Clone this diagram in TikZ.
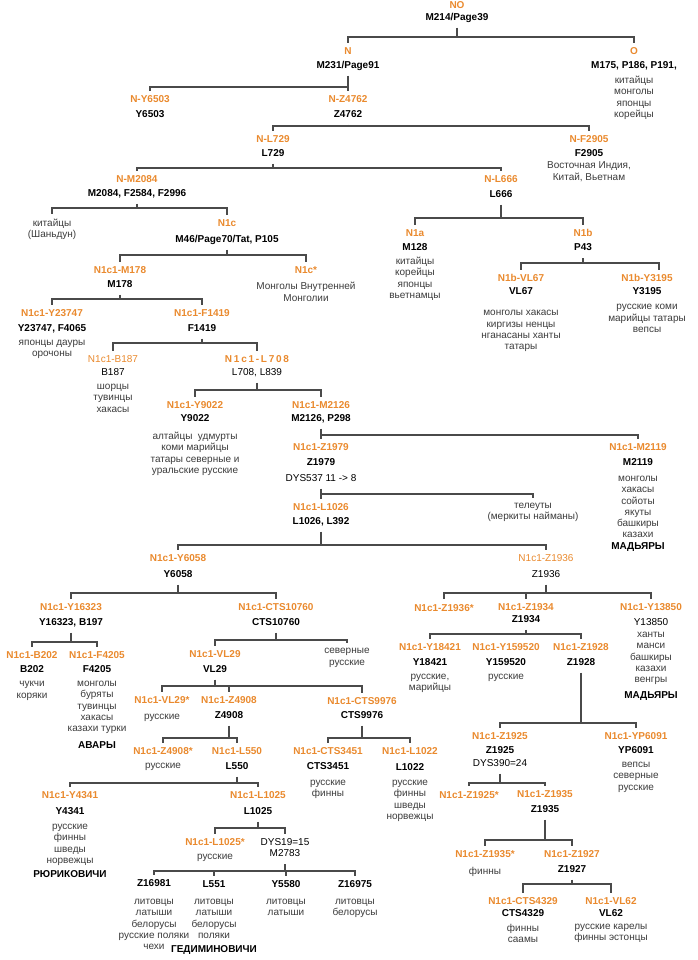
\documentclass[tikz,border=0pt]{standalone}
\usepackage{fontspec}
\setmainfont{Liberation Sans}
\definecolor{org}{RGB}{234,138,46}
\definecolor{pop}{HTML}{3C3C3C}
\definecolor{ln}{HTML}{4A4A4A}
\newcommand\lb[1]{\textcolor{org}{\bfseries #1}}
\newcommand\lr[1]{\textcolor{org}{#1}}
\newcommand\mk[1]{\textbf{#1}}
\newcommand\pp[1]{\textcolor{pop}{#1}}
\newcommand\ltrsp{\kern1.75pt}
\tikzset{
  clade/.style={align=center, inner sep=0pt, outer sep=0pt, anchor=north,
    font=\fontsize{10}{11.25}\selectfont, execute at begin node=\strut},
  edge/.style={draw=ln, line width=1.1pt, shorten <=4pt, shorten >=5pt},
}
\newcommand\cl[4]{\node[clade] (#1) at (#2,#3-4.375) {#4};}
\newcommand\br[3]{%
  \coordinate (bar-#1) at (0,#2);
  \foreach \ch in {#3}{\draw[edge] (#1.south) -- (#1.south |- bar-#1) -| (\ch.north);}%
}
\begin{document}
\begin{tikzpicture}[x=1pt,y=-1pt]
\fill[white] (0,0) rectangle (697,960);
\useasboundingbox (0,0) rectangle (697,960);

\cl{NO}{457}{6}{\lb{NO}\\[0.75pt]\mk{M214/Page39}}
\cl{N}{348}{52}{\lb{N}\\[2.75pt]\mk{M231/Page91}}
\cl{O}{634}{52}{\lb{O}\\[2.75pt]\mk{M175, P186, P191,}\\[3.75pt]\pp{китайцы}\\\pp{монголы}\\\pp{японцы}\\\pp{корейцы}}
\cl{NY6503}{150}{100}{\lb{N-Y6503}\\[3.75pt]\mk{Y6503}}
\cl{NZ4762}{348}{100}{\lb{N-Z4762}\\[3.75pt]\mk{Z4762}}
\cl{NL729}{273}{140}{\lb{N-L729}\\[2.75pt]\mk{L729}}
\cl{NF2905}{589}{140}{\lb{N-F2905}\\[2.75pt]\mk{F2905}\\[0.75pt]\pp{Восточная Индия,}\\[0.75pt]\pp{Китай, Вьетнам}}
\cl{NM2084}{137}{180}{\lb{N-M2084}\\[2.75pt]\mk{M2084, F2584, F2996}}
\cl{kit}{52}{223}{\pp{китайцы}\\\pp{(Шаньдун)}}
\cl{N1c}{227}{224}{\lb{N1c}\\[4.75pt]\mk{M46/Page70/Tat, P105}}
\cl{NL666}{501}{180}{\lb{N-L666}\\[3.75pt]\mk{L666}}
\cl{N1a}{415}{234}{\lb{N1a}\\[2.75pt]\mk{M128}\\[2.75pt]\pp{китайцы}\\\pp{корейцы}\\\pp{японцы}\\\pp{вьетнамцы}}
\cl{N1b}{583}{234}{\lb{N1b}\\[2.75pt]\mk{P43}}
\cl{VL67}{521}{279}{\lb{N1b-VL67}\\[1.75pt]\mk{VL67}\\[9.75pt]\pp{монголы хакасы}\\\pp{киргизы ненцы}\\\pp{нганасаны ханты}\\\pp{татары}}
\cl{Y3195}{647}{279}{\lb{N1b-Y3195}\\[1.75pt]\mk{Y3195}\\[3.75pt]\pp{русские коми}\\\pp{марийцы татары}\\\pp{вепсы}}
\cl{M178}{120}{271}{\lb{N1c1-M178}\\[2.75pt]\mk{M178}}
\cl{N1cs}{306}{271}{\lb{N1c*}\\[4.75pt]\pp{Монголы Внутренней}\\[0.75pt]\pp{Монголии}}
\cl{Y23747}{52}{314}{\lb{N1c1-Y23747}\\[3.75pt]\mk{Y23747, F4065}\\[2.75pt]\pp{японцы дауры}\\\pp{орочоны}}
\cl{F1419}{202}{314}{\lb{N1c1-F1419}\\[3.75pt]\mk{F1419}}
\cl{B187}{113}{360}{\lr{N1c1-B187}\\[1.75pt]B187\\[2.75pt]\pp{шорцы}\\\pp{тувинцы}\\\pp{хакасы}}
\cl{L708}{257}{360}{\lb{N\ltrsp 1\ltrsp c\ltrsp 1\ltrsp -\ltrsp L\ltrsp 7\ltrsp 0\ltrsp 8}\\[1.75pt]L708, L839}
\cl{Y9022}{195}{406}{\lb{N1c1-Y9022}\\[1.75pt]\mk{Y9022}\\[6.75pt]\pp{алтайцы\ \ удмурты}\\\pp{коми марийцы}\\\pp{татары северные и}\\\pp{уральские русские}}
\cl{M2126}{321}{406}{\lb{N1c1-M2126}\\[1.75pt]\mk{M2126, P298}}
\cl{Z1979}{321}{448}{\lb{N1c1-Z1979}\\[3.75pt]\mk{Z1979}\\[4.75pt]DYS537 11 -> 8}
\cl{tel}{533}{507}{\pp{телеуты}\\\pp{(меркиты найманы)}}
\cl{M2119}{638}{448}{\lb{N1c1-M2119}\\[3.75pt]\mk{M2119}\\[4.75pt]\pp{монголы}\\\pp{хакасы}\\\pp{сойоты}\\\pp{якуты}\\\pp{башкиры}\\\pp{казахи}\\[0.75pt]\mk{МАДЬЯРЫ}}
\cl{L1026}{321}{508}{\lb{N1c1-L1026}\\[2.75pt]\mk{L1026, L392}}
\cl{Y6058}{178}{559}{\lb{N1c1-Y6058}\\[4.75pt]\mk{Y6058}}
\cl{Z1936}{546}{559}{\lr{N1c1-Z1936}\\[4.75pt]Z1936}
\cl{Y16323}{71}{608}{\lb{N1c1-Y16323}\\[3.75pt]\mk{Y16323, B197}}
\cl{CTS10760}{276}{608}{\lb{N1c1-CTS10760}\\[3.75pt]\mk{CTS10760}}
\cl{Z1936s}{444}{608}{\lb{N1c1-Z1936*}}
\cl{Z1934}{526}{608}{\lb{N1c1-Z1934}\\[0.75pt]\mk{Z1934}}
\cl{Y13850}{651}{608}{\lb{N1c1-Y13850}\\[3.75pt]Y13850\\[0.75pt]\pp{ханты}\\\pp{манси}\\\pp{башкиры}\\\pp{казахи}\\\pp{венгры}\\[4.75pt]\mk{МАДЬЯРЫ}}
\cl{B202}{32}{656}{\lb{N1c1-B202}\\[2.75pt]\mk{B202}\\[2.75pt]\pp{чукчи}\\[0.75pt]\pp{коряки}}
\cl{F4205}{97}{656}{\lb{N1c1-F4205}\\[2.75pt]\mk{F4205}\\[2.75pt]\pp{монголы}\\\pp{буряты}\\\pp{тувинцы}\\\pp{хакасы}\\\pp{казахи турки}\\[5.75pt]\mk{АВАРЫ}}
\cl{sev}{347}{652}{\pp{северные}\\[0.75pt]\pp{русские}}
\cl{VL29}{215}{655}{\lb{N1c1-VL29}\\[3.75pt]\mk{VL29}}
\cl{Y18421}{430}{648}{\lb{N1c1-Y18421}\\[3.75pt]\mk{Y18421}\\[2.75pt]\pp{русские,}\\\pp{марийцы}}
\cl{Y159520}{506}{648}{\lb{N1c1-Y159520}\\[3.75pt]\mk{Y159520}\\[2.75pt]\pp{русские}}
\cl{Z1928}{581}{648}{\lb{N1c1-Z1928}\\[3.75pt]\mk{Z1928}}
\cl{VL29s}{162}{701}{\lb{N1c1-VL29*}\\[4.75pt]\pp{русские}}
\cl{Z4908}{229}{701}{\lb{N1c1-Z4908}\\[3.75pt]\mk{Z4908}}
\cl{CTS9976}{362}{702}{\lb{N1c1-CTS9976}\\[2.75pt]\mk{CTS9976}}
\cl{Z4908s}{163}{752}{\lb{N1c1-Z4908*}\\[2.75pt]\pp{русские}}
\cl{L550}{237}{752}{\lb{N1c1-L550}\\[3.75pt]\mk{L550}}
\cl{CTS3451}{328}{752}{\lb{N1c1-CTS3451}\\[3.75pt]\mk{CTS3451}\\[4.75pt]\pp{русские}\\\pp{финны}}
\cl{L1022}{410}{752}{\lb{N1c1-L1022}\\[4.75pt]\mk{L1022}\\[3.75pt]\pp{русские}\\\pp{финны}\\\pp{шведы}\\\pp{норвежцы}}
\cl{Z1925}{500}{737}{\lb{N1c1-Z1925}\\[2.75pt]\mk{Z1925}\\[1.75pt]DYS390=24}
\cl{YP6091}{636}{737}{\lb{N1c1-YP6091}\\[2.75pt]\mk{YP6091}\\[2.75pt]\pp{вепсы}\\\pp{северные}\\\pp{русские}}
\cl{Z1925s}{469}{795}{\lb{N1c1-Z1925*}}
\cl{Z1935}{545}{795}{\lb{N1c1-Z1935}\\[3.75pt]\mk{Z1935}}
\cl{Z1935s}{485}{855}{\lb{N1c1-Z1935*}\\[5.75pt]\pp{финны}}
\cl{Z1927}{572}{855}{\lb{N1c1-Z1927}\\[3.75pt]\mk{Z1927}}
\cl{CTS4329}{523}{902}{\lb{N1c1-CTS4329}\\[0.75pt]\mk{CTS4329}\\[3.75pt]\pp{финны}\\\pp{саамы}}
\cl{VL62}{611}{902}{\lb{N1c1-VL62}\\[0.75pt]\mk{VL62}\\[1.75pt]\pp{русские карелы}\\\pp{финны эстонцы}}
\cl{Y4341}{70}{796}{\lb{N1c1-Y4341}\\[4.75pt]\mk{Y4341}\\[3.75pt]\pp{русские}\\\pp{финны}\\\pp{шведы}\\\pp{норвежцы}\\[3pt]\mk{РЮРИКОВИЧИ}}
\cl{L1025}{258}{796}{\lb{N1c1-L1025}\\[4.75pt]\mk{L1025}}
\cl{L1025s}{215}{843}{\lb{N1c1-L1025*}\\[2.75pt]\pp{русские}}
\cl{DYS19}{285}{843}{DYS19=15\\M2783}
\cl{Z16981}{154}{884}{\mk{Z16981}\\[6.75pt]\pp{литовцы}\\\pp{латыши}\\\pp{белорусы}\\\pp{русские поляки}\\\pp{чехи}}
\cl{L551}{214}{885}{\mk{L551}\\[5.75pt]\pp{литовцы}\\\pp{латыши}\\\pp{белорусы}\\\pp{поляки}\\[2.75pt]\mk{ГЕДИМИНОВИЧИ}}
\cl{Y5580}{286}{885}{\mk{Y5580}\\[5.75pt]\pp{литовцы}\\\pp{латыши}}
\cl{Z16975}{355}{885}{\mk{Z16975}\\[5.75pt]\pp{литовцы}\\\pp{белорусы}}

\br{NO}{37}{N,O}
\br{N}{87}{NY6503,NZ4762}
\br{NZ4762}{126}{NL729,NF2905}
\br{NL729}{168}{NM2084,NL666}
\br{NM2084}{208}{kit,N1c}
\br{NL666}{218}{N1a,N1b}
\br{N1c}{255}{M178,N1cs}
\coordinate (bar-N1b) at (0,263);
\draw[edge] (N1b.south) -- (N1b.south |- bar-N1b) -| (VL67.north);
\draw[edge] (N1b.south) -- (N1b.south |- bar-N1b) -| ([xshift=12pt]Y3195.north);
\br{M178}{299}{Y23747,F1419}
\br{F1419}{343}{B187,L708}
\br{L708}{390}{Y9022,M2126}
\br{M2126}{435}{Z1979,M2119}
\br{Z1979}{494}{L1026,tel}
\br{L1026}{545}{Y6058,Z1936}
\br{Y6058}{593}{Y16323,CTS10760}
\br{Z1936}{593}{Z1936s,Z1934,Y13850}
\br{Y16323}{642}{B202,F4205}
\br{CTS10760}{640}{VL29,sev}
\br{Z1934}{634}{Y18421,Z1928}
\br{VL29}{686}{VL29s,Z4908,CTS9976}
\br{Z1928}{723}{Z1925,YP6091}
\br{Z4908}{738}{Z4908s,L550}
\br{CTS9976}{738}{CTS3451,L1022}
\br{L550}{783}{Y4341,L1025}
\br{Z1925}{783}{Z1925s,Z1935}
\br{L1025}{828}{L1025s,DYS19}
\br{Z1935}{840}{Z1935s,Z1927}
\br{Z1927}{884}{CTS4329,VL62}
\br{DYS19}{871}{Z16981,L551,Y5580,Z16975}
\end{tikzpicture}
\end{document}
